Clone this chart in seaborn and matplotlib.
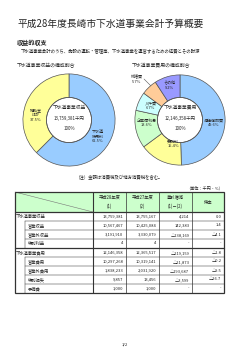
import matplotlib
matplotlib.use("Agg")
import matplotlib.pyplot as plt
from matplotlib.patches import Rectangle
import seaborn as sns

sns.set_theme(style="white")
plt.rcParams['font.family'] = ['Noto Sans CJK JP', 'DejaVu Sans']

# ---------------- data ----------------
title = "平成28年度長崎市下水道事業会計予算概要"
section = "収益的収支"
subline = "下水道事業会計のうち、施設の運転・管理等、下水道事業を運営するための経費とその財源"

rev_title = "下水道事業収益の構成割合"
rev_labels = ["下水道\n使用料", "補助金\nほか"]
rev_pcts = [62.5, 37.5]
rev_colors = ["#99CCFF", "#FFFF99"]
rev_total = "13,759,381千円"

exp_title = "下水道事業費用の構成割合"
exp_labels = ["減価償却費", "委託料", "企業債利息", "人件費", "修繕費", "その他"]
exp_pcts = [49.6, 15.4, 13.6, 6.7, 5.7, 9.2]
exp_colors = ["#99CCFF", "#FFFF99", "#CCFFCC", "#CCFFFF", "#FFCC99", "#9999FF"]
exp_total = "12,146,358千円"

note = "（注）金額は消費税及び地方消費税を含む。"
unit = "（単位：千円・%）"

col_headers = [("平成28年度", "(1)"), ("平成27年度", "(2)"), ("差引増減", "(1)－(2)"), ("伸率", "")]
row_labels = ["下水道事業収益", "営業収益", "営業外収益", "特別利益",
              "下水道事業費用", "営業費用", "営業外費用", "特別損失", "予備費"]
row_level = [0, 1, 1, 1, 0, 1, 1, 1, 1]
fy28 = [13759381, 10567467, 3191910, 4, 12146358, 10297268, 1838233, 9857, 1000]
fy27 = [13755167, 10425084, 3330079, 4, 12365517, 10319141, 2031920, 13456, 1000]
diff = [4214, 142383, -138169, None, -219159, -21873, -193687, -3599, None]
rate = [0.0, 1.4, -4.1, None, -1.8, -0.2, -9.5, -26.7, None]


def fint(v):
    if v is None:
        return "-"
    return ("△" if v < 0 else "") + "{:,}".format(abs(v))


def frate(v):
    if v is None:
        return "-"
    return ("△" if v < 0 else "") + "{:.1f}".format(abs(v))


# ---------------- figure ----------------
W, H = 250, 353
fig = plt.figure(figsize=(W / 100, H / 100), dpi=100)
fig.patch.set_facecolor("white")

ov = fig.add_axes([0, 0, 1, 1])
ov.set_xlim(0, W)
ov.set_ylim(H, 0)
ov.axis("off")

ov.text(17, 24, title, fontsize=7.0, va="center", ha="left")
ov.text(17, 43, section, fontsize=4.4, va="center", ha="left", fontweight="bold")
ov.text(21, 52, subline, fontsize=3.2, va="center", ha="left")
ov.text(17, 66, rev_title, fontsize=3.5, va="center", ha="left")
ov.text(132, 66, exp_title, fontsize=3.5, va="center", ha="left")


def donut(cx, cy, R, r, vals, cols, center_lines, labels):
    ax = fig.add_axes([(cx - R) / W, 1 - (cy + R) / H, 2 * R / W, 2 * R / H])
    ax.pie(vals, colors=cols, startangle=90, counterclock=False, radius=1,
           wedgeprops=dict(width=1 - r / R, edgecolor="#555555", linewidth=0.5))
    ax.set_xlim(-1.02, 1.02)
    ax.set_ylim(-1.02, 1.02)
    ax.set_aspect("auto")
    ax.axis("off")
    ax.add_patch(plt.Circle((0, 0), r / R, fill=False, edgecolor="#555555", linewidth=0.5))
    for (txt, py, fs) in center_lines:
        ax.text(0, (cy - py) / R, txt, ha="center", va="center", fontsize=fs)
    for (txt, px, py) in labels:
        ax.text((px - cx) / R, (cy - py) / R, txt, ha="center", va="center",
                fontsize=2.9, linespacing=1.15)
    return ax


donut(69, 120, 47, 23, rev_pcts, rev_colors,
      [("下水道事業収益", 107, 3.4), (rev_total, 118, 3.2), ("100%", 129, 3.2)],
      [(f"{rev_labels[0]}\n{rev_pcts[0]}%", 98, 137),
       (f"{rev_labels[1]}\n{rev_pcts[1]}%", 35, 115)])

axr = donut(180, 120, 46, 23, exp_pcts, exp_colors,
            [("下水道事業費用", 107, 3.4), (exp_total, 118, 3.2), ("100%", 129, 3.2)],
            [(f"{exp_labels[0]}\n{exp_pcts[0]}%", 214, 123),
             (f"{exp_labels[1]}\n{exp_pcts[1]}%", 173, 144),
             (f"{exp_labels[2]}\n{exp_pcts[2]}%", 146, 123),
             (f"{exp_labels[3]}\n{exp_pcts[3]}%", 150, 105),
             (f"{exp_labels[5]}\n{exp_pcts[5]}%", 169, 85)])
# outside label for 修繕費
ov.text(137, 79, f"{exp_labels[4]}\n{exp_pcts[4]}%", ha="center", va="center",
        fontsize=2.9, linespacing=1.15, zorder=5)
ov.plot([144, 151], [79, 86], color="#555555", lw=0.4, zorder=5)

ov.text(120, 178, note, fontsize=3.2, ha="center", va="center")
ov.text(223, 188, unit, fontsize=3.0, ha="right", va="center")

# ---------------- table ----------------
edges = [15, 93, 126, 159, 192, 224]
top, hb, rh = 192, 212, 9
nrows = len(row_labels)
bot = hb + rh * nrows
indent = 25
lc = "#333333"

ov.add_patch(Rectangle((edges[0], top), edges[-1] - edges[0], hb - top,
                       facecolor="#CCFFCC", edgecolor="none", zorder=1))
ov.plot([edges[0], edges[1]], [top, hb], color="#777777", lw=0.4, zorder=2)
for j, (h1, h2) in enumerate(col_headers):
    xc = (edges[j + 1] + edges[j + 2]) / 2
    if h2:
        ov.text(xc, 197, h1, fontsize=3.1, ha="center", va="center", zorder=3)
        ov.text(xc, 206, h2, fontsize=3.1, ha="center", va="center", zorder=3)
    else:
        ov.text(xc, 202, h1, fontsize=3.1, ha="center", va="center", zorder=3)

for i in range(nrows):
    yc = hb + rh * i + rh / 2
    x0 = 16 if row_level[i] == 0 else 28
    ov.text(x0, yc, row_labels[i], fontsize=3.1, ha="left", va="center", zorder=3)
    vals = [fint(fy28[i]), fint(fy27[i]), fint(diff[i]), frate(rate[i])]
    for j, v in enumerate(vals):
        ov.text(edges[j + 2] - 2.5, yc, v, fontsize=3.0, ha="right", va="center", zorder=3)
    if i > 0:
        y = hb + rh * i
        xs = indent if row_level[i] == 1 else edges[0]
        lw = 0.9 if row_level[i] == 0 else 0.35
        ov.plot([xs, edges[-1]], [y, y], color=lc, lw=lw, zorder=2)

# indent verticals
groups = [i for i in range(nrows) if row_level[i] == 0] + [nrows]
for g in range(len(groups) - 1):
    ya = hb + rh * (groups[g] + 1)
    yb = hb + rh * groups[g + 1]
    ov.plot([indent, indent], [ya, yb], color=lc, lw=0.35, zorder=2)

ov.plot([edges[0], edges[-1]], [hb, hb], color=lc, lw=0.9, zorder=2)
for k, x in enumerate(edges[1:-1]):
    ov.plot([x, x], [top, bot], color=lc, lw=0.8 if k == 0 else 0.5, zorder=2)
ov.add_patch(Rectangle((edges[0], top), edges[-1] - edges[0], bot - top,
                       facecolor="none", edgecolor=lc, lw=0.9, zorder=4))

ov.text(125, 344, "1/2", fontsize=3.0, ha="center", va="center")

fig.savefig("out.png", dpi=100, facecolor="white")
